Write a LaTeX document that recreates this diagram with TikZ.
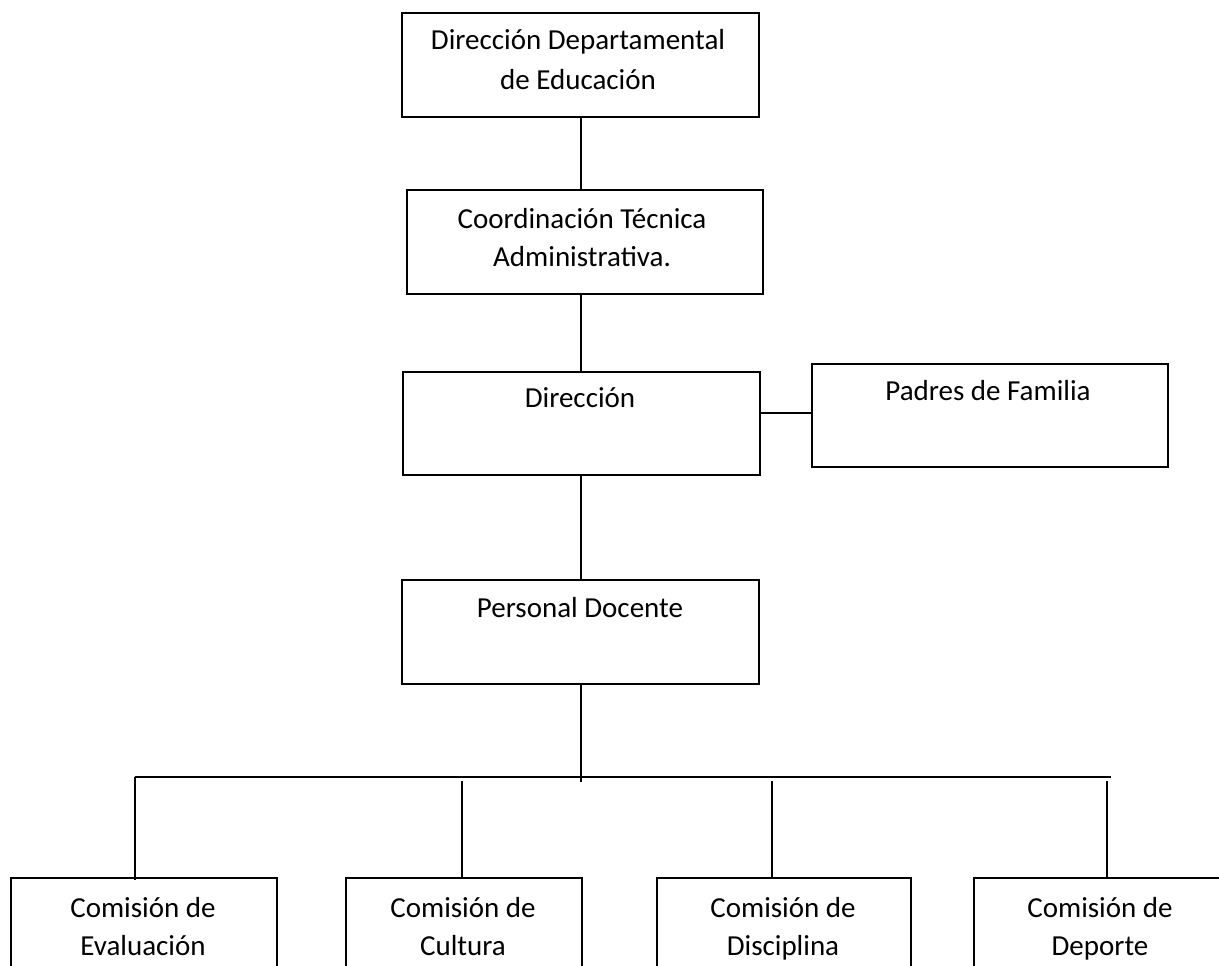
\documentclass[tikz,border=0pt]{standalone}
\usepackage{fontspec}
\setmainfont{Carlito}
\begin{document}
\begin{tikzpicture}[x=1pt,y=-1pt,
  box/.style={draw=black, line width=1.6pt, anchor=north west, inner sep=0pt},
  txt/.style={anchor=base, inner sep=0pt, font=\fontsize{29}{40}\selectfont},
  conn/.style={draw=black, line width=1.6pt}]
\useasboundingbox (0,0) rectangle (1219,966);
\clip (0,0) rectangle (1219,966);
% boxes
\node[box, minimum width=357pt, minimum height=104pt] (b1) at (401,12) {};
\node[box, minimum width=356pt, minimum height=104pt] (b2) at (406,189) {};
\node[box, minimum width=357pt, minimum height=103pt] (b3) at (402,371) {};
\node[box, minimum width=356pt, minimum height=103pt] (b4) at (811,363) {};
\node[box, minimum width=357pt, minimum height=104pt] (b5) at (401,579) {};
\node[box, minimum width=266pt, minimum height=140pt] (c1) at (10,877) {};
\node[box, minimum width=236pt, minimum height=140pt] (c2) at (345,877) {};
\node[box, minimum width=254pt, minimum height=140pt] (c3) at (656,877) {};
\node[box, minimum width=254pt, minimum height=140pt] (c4) at (973,877) {};
% texts
\node[txt] (t1a) at (578,50) {Dirección Departamental};
\node[txt] (t1b) at (578,90) {de Educación};
\node[txt] (t2a) at (582,228) {Coordinación Técnica};
\node[txt] (t2b) at (582,266) {Administrativa.};
\node[txt] (t3) at (580,407) {Dirección};
\node[txt] (t4) at (988,400) {Padres de Familia};
\node[txt] (t5) at (580,617) {Personal Docente};
\node[txt] (t6a) at (143,917) {Comisión de};
\node[txt] (t6b) at (143,955) {Evaluación};
\node[txt] (t7a) at (463,917) {Comisión de};
\node[txt] (t7b) at (463,955) {Cultura};
\node[txt] (t8a) at (783,917) {Comisión de};
\node[txt] (t8b) at (783,955) {Disciplina};
\node[txt] (t9a) at (1100,917) {Comisión de};
\node[txt] (t9b) at (1100,955) {Deporte};
% connector helpers
\coordinate (spine) at (581,0);
\coordinate (busL) at (135,777);
\coordinate (busR) at (1111,777);
\coordinate (busEnd) at (581,782);
\coordinate (d2) at (462,781);
\coordinate (d3) at (772,781);
\coordinate (d4) at (1107,781);
\coordinate (h3) at (0,413);
% connectors
\draw[conn] (b1.south -| spine) -- (b2.north -| spine);
\draw[conn] (b2.south -| spine) -- (b3.north -| spine);
\draw[conn] (b3.east |- h3) -- (b4.west |- h3);
\draw[conn] (b3.south -| spine) -- (b5.north -| spine);
\draw[conn] (b5.south -| spine) -- (busEnd);
\draw[conn] (busL) -- (busR);
\draw[conn] (busL) -- ([yshift=-3pt]c1.north -| busL);
\draw[conn] (d2) -- (c2.north -| d2);
\draw[conn] (d3) -- (c3.north -| d3);
\draw[conn] (d4) -- (c4.north -| d4);
\end{tikzpicture}
\end{document}
